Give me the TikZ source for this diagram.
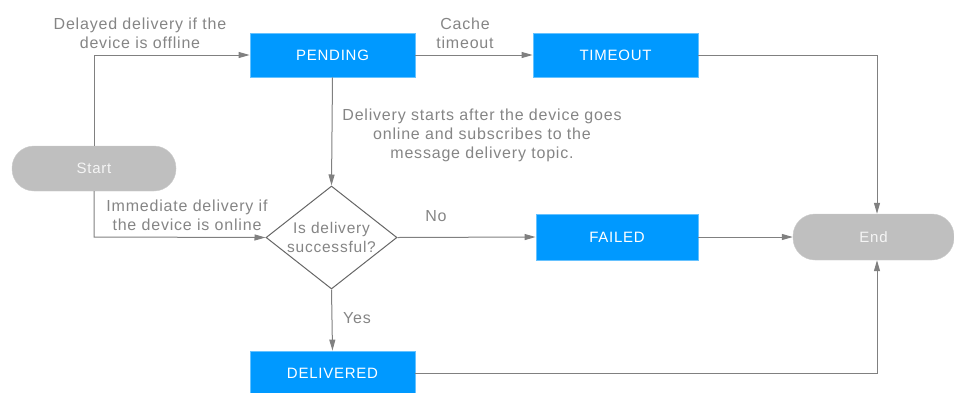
\documentclass[tikz,border=0pt]{standalone}
\usepackage{fontspec}
\setmainfont{Liberation Sans}
\newfontfamily\lblfont[LetterSpace=5]{Liberation Sans}
\usetikzlibrary{arrows.meta,shapes.geometric}
\definecolor{boxblue}{HTML}{0099FF}
\definecolor{boxedge}{HTML}{66C2FF}
\definecolor{termgray}{HTML}{BFBFBF}
\definecolor{linegray}{HTML}{808080}
\definecolor{txtgray}{HTML}{858585}
\tikzset{
  statebox/.style={rectangle, fill=boxblue, draw=boxedge, line width=0.8pt, minimum width=165pt, minimum height=44pt, text=white, font=\lblfont\fontsize{15}{17}\selectfont},
  termbox/.style={rectangle, rounded corners=22pt, fill=termgray, draw=termgray!80!white, minimum width=164pt, minimum height=45pt, text=white!92!gray, font=\lblfont\fontsize{15}{17}\selectfont},
  decbox/.style={diamond, draw=linegray!80!black, line width=1pt, fill=white, minimum width=131pt, minimum height=103pt, inner sep=0pt, aspect=1.27, text=txtgray, align=center, font=\lblfont\fontsize{15.5}{19}\selectfont},
  conn/.style={draw=linegray, line width=1pt, -{Triangle[length=11pt,width=6pt]}, color=linegray},
  lbl/.style={text=txtgray, align=center, font=\lblfont\fontsize{16}{19}\selectfont, inner sep=0pt}
}
\begin{document}
\begin{tikzpicture}[x=1pt,y=-1pt]
\useasboundingbox (0,0) rectangle (954,392);
\node[statebox] (pending) at (332.5,55) {PENDING};
\node[statebox] (timeout) at (615.5,55) {TIMEOUT};
\node[termbox] (start) at (94,168.5) {Start};
\node[decbox] (dec) at (331.5,237.5) {Is delivery\\successful?};
\node[statebox, minimum width=162pt, minimum height=46pt] (failed) at (617,237) {FAILED};
\node[termbox, minimum width=161pt, minimum height=46pt] (end) at (873.5,237) {End};
\node[statebox] (delivered) at (332.5,373) {DELIVERED};

\coordinate (c1) at (94,55);
\coordinate (c2) at (94,237);
\coordinate (c3) at (877,55);
\coordinate (c4) at (877,373);

\draw[conn] (start.north) -- (c1) -- (pending.west);
\draw[conn] (start.south) -- (c2) -- (dec.west);
\draw[conn] (pending.east) -- (timeout.west);
\draw[conn] (pending.south) -- (dec.north);
\draw[conn] (timeout.east) -- (c3) -- (end.north -| c3);
\draw[conn] (dec.east) -- (failed.west);
\draw[conn] (failed.east) -- (end.west);
\draw[conn] (dec.south) -- (delivered.north);
\draw[conn] (delivered.east) -- (c4) -- (end.south -| c4);

\node[lbl] (l1) at (140,33) {Delayed delivery if the\\device is offline};
\node[lbl] (l2) at (465,33) {Cache\\timeout};
\node[lbl] (l3) at (482,135) {Delivery starts after the device goes\\online and subscribes to the\\message delivery topic.};
\node[lbl] (l4) at (187,215) {Immediate delivery if\\the device is online};
\node[lbl] (l5) at (436,216) {No};
\node[lbl] (l6) at (357,318) {Yes};
\end{tikzpicture}
\end{document}
